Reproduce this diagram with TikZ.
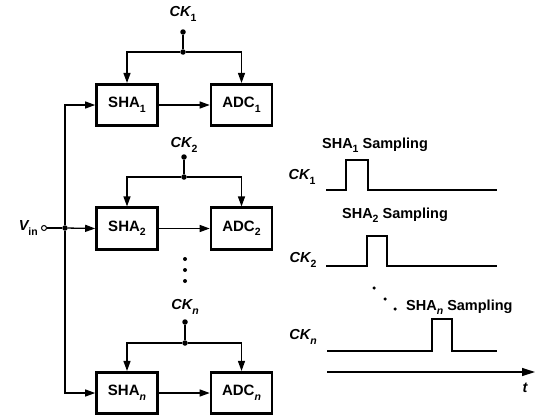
\documentclass[tikz,border=0pt]{standalone}
\usepackage{fontspec}
\setmainfont{Liberation Sans}
\usetikzlibrary{arrows.meta}
\newcommand\lowsub[1]{\raisebox{-0.3em}{\fontsize{10.5}{11}\selectfont #1}}
\begin{document}
\begin{tikzpicture}[x=1pt,y=-1pt,
  blk/.style={draw,line width=2.6pt,minimum width=61pt,minimum height=41.5pt,inner sep=0pt,font=\fontsize{15}{18}\selectfont\bfseries},
  wire/.style={line width=1.3pt},
  arr/.style={wire,-{Triangle[length=10pt,width=7pt]}},
  dotn/.style={circle,fill,inner sep=0pt,minimum size=5.5pt},
  vdot/.style={circle,fill,inner sep=0pt,minimum size=4pt},
  lbl/.style={font=\fontsize{14.5}{17}\selectfont\bfseries\itshape,inner sep=0pt},
  txt/.style={font=\fontsize{14.5}{17}\selectfont\bfseries,inner sep=0pt},
  wave/.style={line width=2.4pt,line join=miter}]
\useasboundingbox (0,0) rectangle (535,415);

% blocks
\node[blk] (s1) at (127,105) {SHA\lowsub{1}};
\node[blk] (a1) at (241.5,105) {ADC\lowsub{1}};
\node[blk] (s2) at (127,228.5) {SHA\lowsub{2}};
\node[blk] (a2) at (241.5,228.5) {ADC\lowsub{2}};
\node[blk] (sn) at (127,393) {SHA\lowsub{\itshape n}};
\node[blk] (an) at (241.5,393) {ADC\lowsub{\itshape n}};

% clocks
\node[lbl] (ck1) at (183,14) {CK\lowsub{\upshape 1}};
\node[dotn] (d1) at (183,32) {};
\node[dotn] (j1) at (183,52) {};
\draw[wire] (d1) -- (j1);
\draw[arr] (j1) -| (s1.north);
\draw[arr] (j1) -| (a1.north);

\node[lbl] (ck2) at (184,145) {CK\lowsub{\upshape 2}};
\node[dotn] (d2) at (184,157) {};
\node[dotn] (j2) at (184,177) {};
\draw[wire] (d2) -- (j2);
\draw[arr] (j2) -| (s2.north);
\draw[arr] (j2) -| (a2.north);

\node[lbl] (ckn) at (185,307) {CK\lowsub{\itshape n}};
\node[dotn] (dn) at (185,322) {};
\node[dotn] (jn) at (185,343) {};
\draw[wire] (dn) -- (jn);
\draw[arr] (jn) -| (sn.north);
\draw[arr] (jn) -| (an.north);

% SHA -> ADC
\draw[arr] (s1) -- (a1);
\draw[arr] (s2) -- (a2);
\draw[arr] (sn) -- (an);

% vertical dots
\node[vdot] (v1) at (185,259) {};
\node[vdot] (v2) at (185,270) {};
\node[vdot] (v3) at (185,281) {};

% input
\node[txt,anchor=east] (vin) at (38,228) {\itshape V\lowsub{\upshape in}};
\node[circle,draw,line width=1pt,inner sep=0pt,minimum size=5pt,fill=white] (vc) at (44,228) {};
\node[dotn] (vj) at (65,228) {};
\draw[wire] (vc) -- (vj);
\draw[arr] (vj) -- (s2.west);
\draw[arr] (vj) |- (s1.west);
\draw[arr] (vj) |- (sn.west);

% timing diagram
\node[txt] (samp1) at (375,145) {SHA\lowsub{1} Sampling};
\node[lbl] (tck1) at (302,177) {CK\lowsub{\upshape 1}};
\draw[wave] (326,190) -- (346,190) -- (346,160) -- (368,160) -- (368,190) -- (497,190);

\node[txt] (samp2) at (395,215) {SHA\lowsub{2} Sampling};
\node[lbl] (tck2) at (303,260) {CK\lowsub{\upshape 2}};
\draw[wave] (326,266) -- (367,266) -- (367,236) -- (387,236) -- (387,266) -- (497,266);

\node[vdot,minimum size=3.5pt] (t1) at (374,288) {};
\node[vdot,minimum size=3.5pt] (t2) at (385,299) {};
\node[vdot,minimum size=3.5pt] (t3) at (395,309) {};

\node[txt,anchor=west] (sampn) at (406,307) {SHA\lowsub{\itshape n} Sampling};
\node[lbl] (tckn) at (303,337) {CK\lowsub{\itshape n}};
\draw[wave] (327,351) -- (432,351) -- (432,319) -- (452,319) -- (452,351) -- (497,351);

\coordinate (ax0) at (327,372);
\coordinate (ax1) at (535,372);
\draw[wire,-{Triangle[length=13pt,width=8pt]}] (ax0) -- (ax1);
\node[lbl] (tl) at (525,388) {t};
\end{tikzpicture}
\end{document}
